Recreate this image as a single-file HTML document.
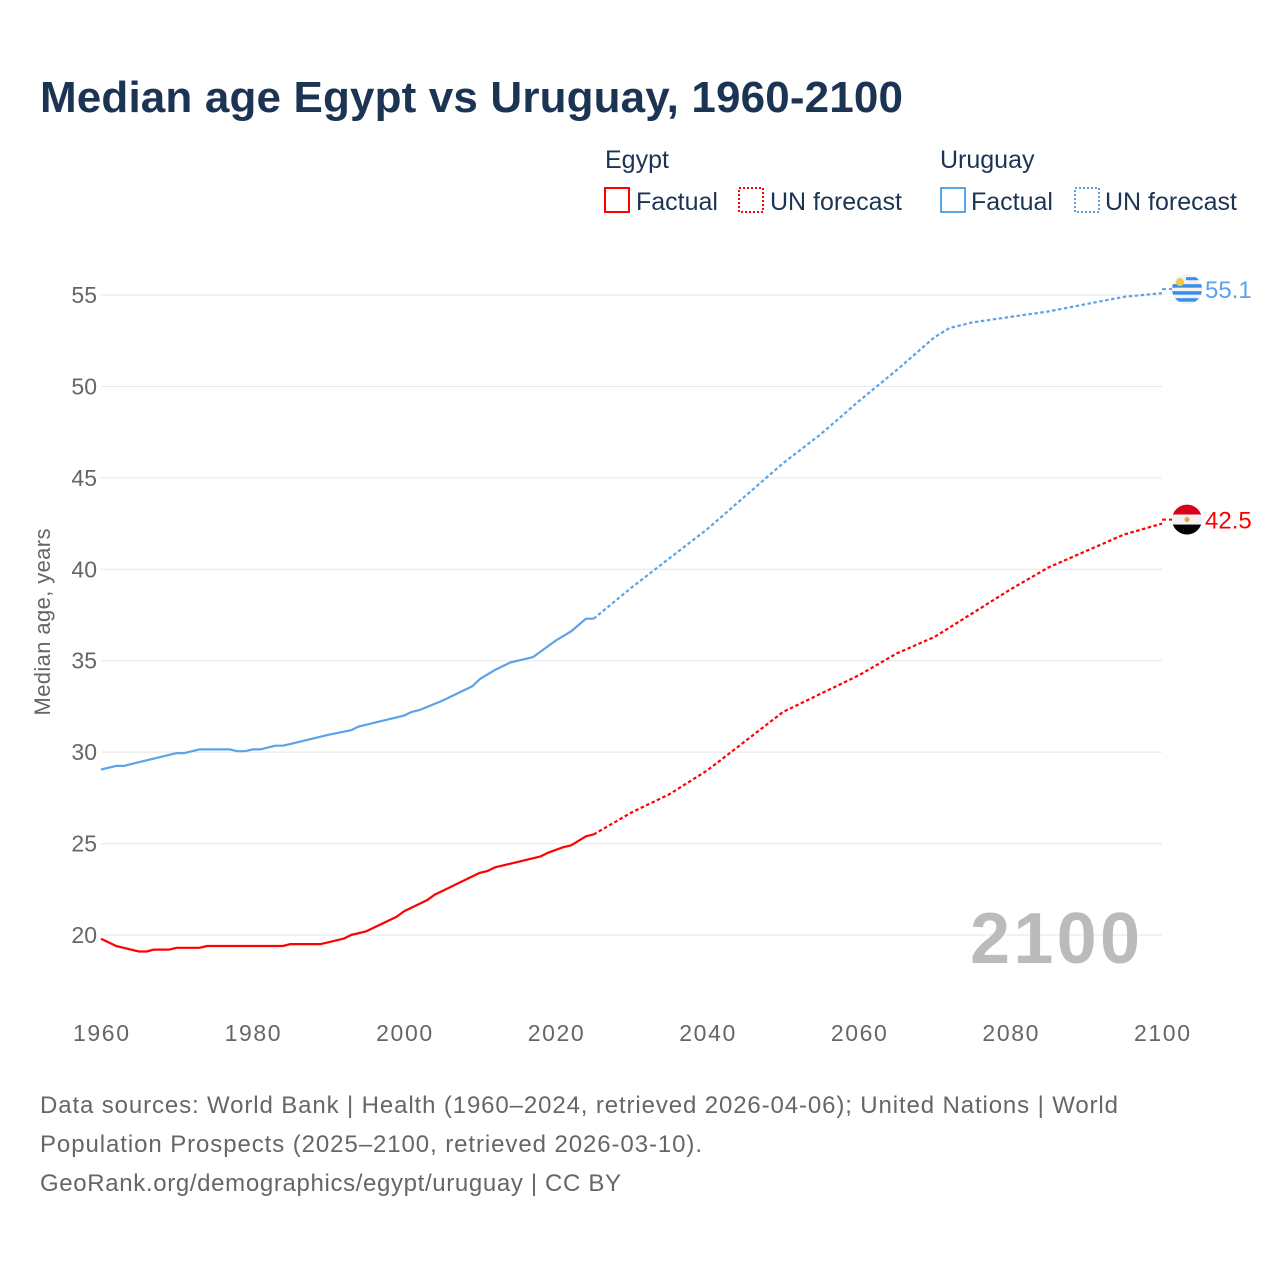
<!DOCTYPE html>
<html><head><meta charset="utf-8">
<style>
body{margin:0;background:#fff;font-family:"Liberation Sans",sans-serif;}
#wrap{position:relative;width:1280px;height:1280px;overflow:hidden;}
</style></head>
<body><div id="wrap">
<svg id="svg" width="1280" height="1280" xmlns="http://www.w3.org/2000/svg">
<text x="40" y="112" font-size="44" font-weight="bold" fill="#1c3454" textLength="863">Median age Egypt vs Uruguay, 1960-2100</text>
<g font-size="25" fill="#1c3454">
<text x="605" y="168">Egypt</text>
<rect x="605" y="188" width="24" height="24" fill="none" stroke="#f00" stroke-width="2"/>
<text x="636" y="210">Factual</text>
<rect x="739" y="188" width="24" height="24" fill="none" stroke="#f00" stroke-width="2" stroke-dasharray="2,2"/>
<text x="770" y="210">UN forecast</text>
<text x="940" y="168">Uruguay</text>
<rect x="941" y="188" width="24" height="24" fill="none" stroke="#5ba3e8" stroke-width="2"/>
<text x="971" y="210">Factual</text>
<rect x="1075" y="188" width="24" height="24" fill="none" stroke="#5ba3e8" stroke-width="2" stroke-dasharray="2,2"/>
<text x="1105" y="210">UN forecast</text>
</g>
<g id="grid"></g>
<g id="plot"></g>
<text transform="translate(50,622) rotate(-90)" text-anchor="middle" font-size="22" fill="#666" textLength="187">Median age, years</text>
<text x="970" y="963" font-size="72" font-weight="bold" fill="#bbb" textLength="170">2100</text>
<g font-size="24" fill="#666">
<text x="40" y="1113" textLength="1078">Data sources: World Bank | Health (1960–2024, retrieved 2026-04-06); United Nations | World</text>
<text x="40" y="1152" textLength="662">Population Prospects (2025–2100, retrieved 2026-03-10).</text>
<text x="40" y="1191" textLength="581">GeoRank.org/demographics/egypt/uruguay | CC BY</text>
</g>
</svg>
</div>
<script>
const yTicks=[20,25,30,35,40,45,50,55];
const xTicks=[1960,1980,2000,2020,2040,2060,2080,2100];
const uyFactYears=[1960,1962,1963,1965,1970,1971,1973,1977,1978,1979,1980,1981,1983,1984,1985,1990,1993,1994,1995,2000,2001,2002,2005,2009,2010,2012,2014,2016,2017,2018,2020,2022,2024,2025];
const uyFactVals=[29.05,29.25,29.25,29.45,29.95,29.95,30.15,30.15,30.05,30.05,30.15,30.15,30.35,30.35,30.45,30.95,31.2,31.4,31.5,32.0,32.2,32.3,32.8,33.6,34.0,34.5,34.9,35.1,35.2,35.5,36.1,36.6,37.3,37.3];
const uyFcYears=[2025,2030,2035,2040,2045,2050,2055,2060,2065,2070,2072,2075,2080,2085,2090,2095,2100];
const uyFcVals=[37.3,39.0,40.6,42.2,44.0,45.8,47.4,49.2,50.9,52.7,53.2,53.5,53.8,54.1,54.5,54.9,55.1];
const egFactYears=[1960,1962,1965,1966,1967,1969,1970,1973,1974,1984,1985,1989,1992,1993,1995,1999,2000,2003,2004,2007,2010,2011,2012,2015,2018,2019,2021,2022,2024,2025];
const egFactVals=[19.8,19.4,19.1,19.1,19.2,19.2,19.3,19.3,19.4,19.4,19.5,19.5,19.8,20.0,20.2,21.0,21.3,21.9,22.2,22.8,23.4,23.5,23.7,24.0,24.3,24.5,24.8,24.9,25.4,25.5];
const egFcYears=[2025,2030,2035,2040,2045,2050,2055,2060,2065,2070,2075,2080,2085,2090,2095,2100];
const egFcVals=[25.5,26.7,27.7,29.0,30.6,32.2,33.2,34.2,35.4,36.3,37.6,38.9,40.1,41.0,41.9,42.5];
const NS='http://www.w3.org/2000/svg';
const X=y=>101+(y-1960)*(1061/140);
const Y=v=>295+(55-v)*(640/35);
function mk(t,a,p){const e=document.createElementNS(NS,t);for(const k in a)e.setAttribute(k,a[k]);p.appendChild(e);return e;}
const grid=document.getElementById('grid'),plot=document.getElementById('plot');
yTicks.forEach(v=>{
 const l=mk('line',{x1:101,x2:1162,y1:Y(v),y2:Y(v),stroke:'#e6e6e6','stroke-width':1},grid);
 
 
 const t=mk('text',{x:97,y:Y(v)+8,'text-anchor':'end','font-size':23,fill:'#666'},grid);
 t.textContent=v;
 
 
});
xTicks.forEach(v=>{
 const t=mk('text',{x:X(v),y:1041,'text-anchor':'middle','font-size':23,fill:'#666',textLength:56},grid);
 t.textContent=v;
 
 
});
function line(xs,vs,col,dash,name){
 const d=xs.map((x,i)=>(i?'L':'M')+X(x).toFixed(1)+','+Y(vs[i]).toFixed(1)).join('');
 const a={d:d,fill:'none',stroke:col,'stroke-width':2.2,'stroke-linejoin':'round'};
 if(dash)a['stroke-dasharray']='3.5,2.5';
 const p=mk('path',a,plot);
 
 
}
line(uyFactYears,uyFactVals,'#5ba3e8',false,'uruguay-factual-line');
line(uyFcYears,uyFcVals,'#5ba3e8',true,'uruguay-forecast-line');
line(egFactYears,egFactVals,'#f00',false,'egypt-factual-line');
line(egFcYears,egFcVals,'#f00',true,'egypt-forecast-line');
function endLbl(val,col,name,flag){
 const cy=Y(val)-4,cx=1187;
 const g=mk('g',{},plot);
 
 
 mk('line',{x1:1162,x2:1172,y1:cy,y2:cy,stroke:col,'stroke-width':2,'stroke-dasharray':'4,3'},g);
 const cid='c'+name;
 const cp=mk('clipPath',{id:cid},g);mk('circle',{cx:cx,cy:cy,r:15},cp);
 const f=mk('g',{'clip-path':'url(#'+cid+')'},g);
 flag(f,cx,cy);
 const t=mk('text',{x:1205,y:cy+9,'font-size':24,fill:col},plot);
 t.textContent=val.toFixed(1);
 
 
}
endLbl(uyFcVals[uyFcVals.length-1],'#5ba3e8','uruguay',(f,cx,cy)=>{
 mk('rect',{x:cx-15,y:cy-15,width:30,height:30,fill:'#f2f2f2'},f);
 [-3,4,11].forEach(o=>{mk('rect',{x:cx-15,y:cy+o-2,width:30,height:3.5,fill:'#3a8ee6'},f);});
 mk('rect',{x:cx-1,y:cy-12,width:16,height:3,fill:'#3a8ee6'},f);
 mk('circle',{cx:cx-7,cy:cy-7,r:4,fill:'#f5c842'},f);
});
endLbl(egFcVals[egFcVals.length-1],'#f00','egypt',(f,cx,cy)=>{
 mk('rect',{x:cx-15,y:cy-15,width:30,height:10,fill:'#d9001e'},f);
 mk('rect',{x:cx-15,y:cy-5,width:30,height:10,fill:'#f2f2f2'},f);
 mk('rect',{x:cx-15,y:cy+5,width:30,height:10,fill:'#000'},f);
 mk('circle',{cx:cx,cy:cy,r:2.5,fill:'#e8a33c'},f);
});
</script>
</body></html>
